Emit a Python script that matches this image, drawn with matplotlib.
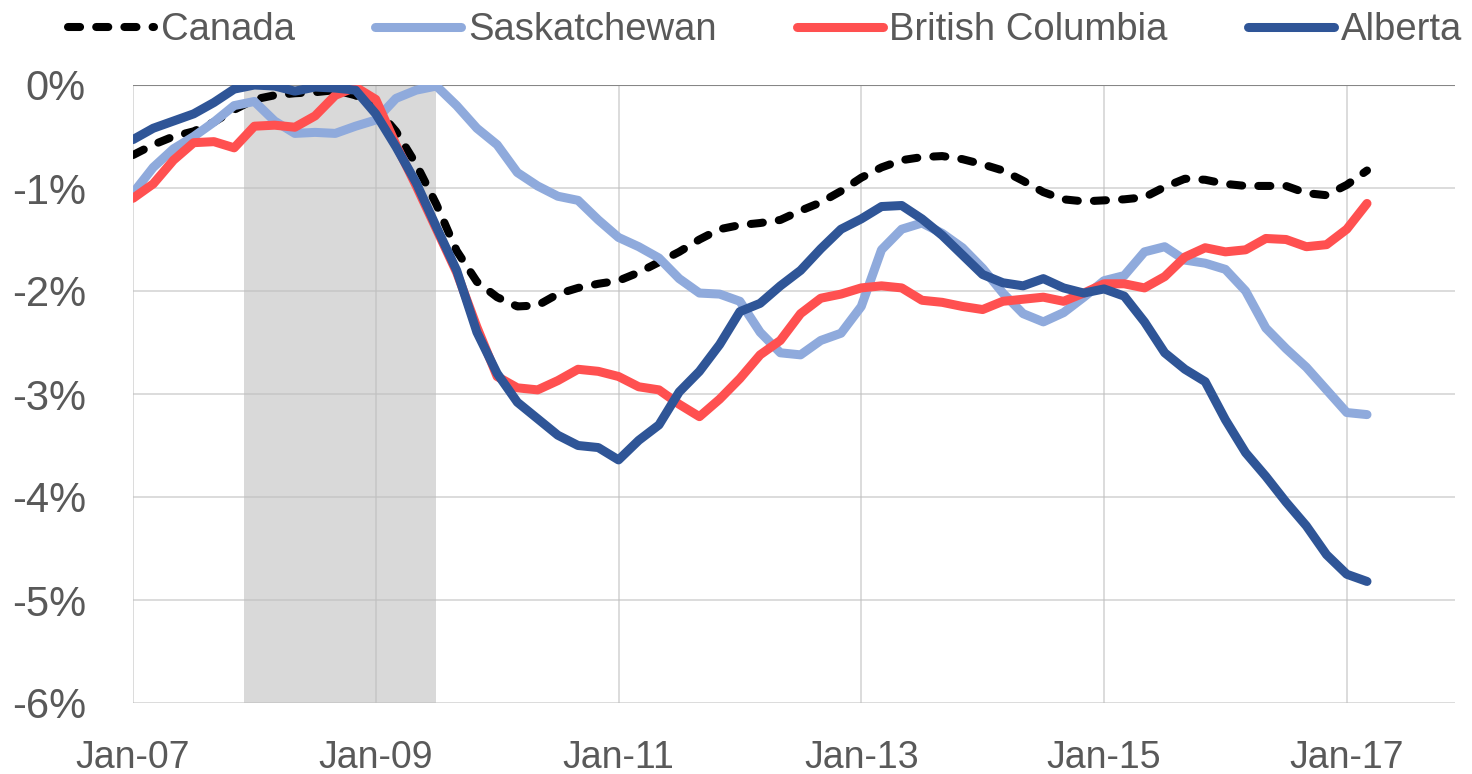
"""Employment drop from pre-recession peak: Canada vs western provinces."""
import matplotlib

matplotlib.use("Agg")
import matplotlib.pyplot as plt
import numpy as np

# months since Jan-07, every second month through Mar-17
months = np.arange(0, 124, 2)

canada = [
    -0.68, -0.58, -0.50, -0.45, -0.36, -0.24, -0.14, -0.10, -0.08, -0.07, -0.05, -0.10,
    -0.22, -0.45, -0.77, -1.16, -1.61, -1.91, -2.06, -2.15, -2.14, -2.03, -1.97, -1.93,
    -1.90, -1.82, -1.72, -1.62, -1.50, -1.40, -1.36, -1.34, -1.31, -1.22, -1.14, -1.03,
    -0.90, -0.80, -0.73, -0.70, -0.69, -0.72, -0.77, -0.83, -0.93, -1.04, -1.11, -1.13,
    -1.12, -1.11, -1.09, -0.99, -0.91, -0.92, -0.96, -0.98, -0.98, -0.98, -1.05, -1.07,
    -0.97, -0.83,
]
saskatchewan = [
    -1.05, -0.80, -0.62, -0.50, -0.36, -0.20, -0.16, -0.35, -0.47, -0.46, -0.47, -0.40,
    -0.34, -0.13, -0.05, -0.01, -0.20, -0.42, -0.58, -0.85, -0.98, -1.08, -1.12, -1.31,
    -1.48, -1.57, -1.68, -1.88, -2.02, -2.03, -2.10, -2.40, -2.60, -2.62, -2.48, -2.41,
    -2.15, -1.60, -1.40, -1.34, -1.44, -1.58, -1.78, -2.02, -2.22, -2.30, -2.21, -2.06,
    -1.90, -1.85, -1.62, -1.57, -1.70, -1.73, -1.79, -2.00, -2.36, -2.56, -2.74, -2.96,
    -3.18, -3.20,
]
british_columbia = [
    -1.10, -0.96, -0.73, -0.56, -0.55, -0.61, -0.40, -0.39, -0.41, -0.30, -0.10, -0.02,
    -0.14, -0.58, -0.98, -1.40, -1.82, -2.35, -2.83, -2.94, -2.96, -2.87, -2.76, -2.78,
    -2.83, -2.93, -2.96, -3.10, -3.22, -3.05, -2.85, -2.62, -2.48, -2.22, -2.07, -2.03,
    -1.97, -1.95, -1.97, -2.09, -2.11, -2.15, -2.18, -2.10, -2.08, -2.06, -2.10, -2.02,
    -1.93, -1.93, -1.97, -1.86, -1.67, -1.58, -1.62, -1.60, -1.49, -1.50, -1.57, -1.55,
    -1.40, -1.15,
]
alberta = [
    -0.53, -0.42, -0.35, -0.28, -0.17, -0.04, 0.00, -0.01, -0.06, -0.02, -0.03, -0.05,
    -0.28, -0.60, -0.95, -1.38, -1.80, -2.40, -2.80, -3.08, -3.24, -3.40, -3.50, -3.52,
    -3.64, -3.45, -3.30, -2.98, -2.78, -2.52, -2.20, -2.12, -1.95, -1.80, -1.59, -1.40,
    -1.30, -1.18, -1.17, -1.30, -1.46, -1.65, -1.84, -1.92, -1.95, -1.88, -1.97, -2.02,
    -1.98, -2.05, -2.30, -2.60, -2.76, -2.88, -3.25, -3.57, -3.80, -4.05, -4.28, -4.56,
    -4.75, -4.82,
]

# recession band: Dec-07 to Jul-09 (months since Jan-07)
recession_start, recession_end = 11, 30

x_ticks = [0, 24, 48, 72, 96, 120]
x_labels = ["Jan-07", "Jan-09", "Jan-11", "Jan-13", "Jan-15", "Jan-17"]
y_ticks = [0, -1, -2, -3, -4, -5, -6]
y_labels = ["0%", "-1%", "-2%", "-3%", "-4%", "-5%", "-6%"]

plt.rcParams["font.family"] = ["Liberation Sans", "DejaVu Sans"]
text_color = "#595959"

fig = plt.figure(figsize=(14.72, 7.74), dpi=100)
ax = fig.add_axes([133 / 1472, 1 - 703 / 774, (1455 - 133) / 1472, (703 - 85) / 774])

ax.axvspan(recession_start, recession_end, color="#D9D9D9", lw=0, zorder=0.3)

solid = dict(lw=6.5, solid_capstyle="round", solid_joinstyle="round")
ax.plot(months, canada, color="black", lw=5.8, linestyle=(0, (1.5, 2.0)),
        dash_capstyle="round", label="Canada", zorder=3)
ax.plot(months, saskatchewan, color="#8FAADC", label="Saskatchewan", zorder=4, **solid)
ax.plot(months, british_columbia, color="#FF5050", label="British Columbia", zorder=5, **solid)
ax.plot(months, alberta, color="#2F5597", label="Alberta", zorder=6, **solid)

ax.axhline(0, color="#868686", lw=1.5, zorder=2.5)

ax.set_xlim(0, 130.7)
ax.set_ylim(-6, 0)
ax.set_xticks(x_ticks, x_labels)
ax.set_yticks(y_ticks, y_labels)
ax.set_axisbelow(True)
# semi-transparent grid so it still shows across the shaded band
ax.grid(True, color="#BFBFBF", alpha=0.6, lw=1.3)
for side in ax.spines.values():
    side.set_visible(False)
ax.tick_params(axis="both", length=0, colors=text_color)
ax.tick_params(axis="y", labelsize=30, pad=34)
ax.tick_params(axis="x", labelsize=27, pad=27)

fig.legend(loc="center", bbox_to_anchor=(765 / 1472, 1 - 30 / 774), ncol=4, frameon=False,
           fontsize=27.5, handlelength=2.25, handletextpad=0.18, columnspacing=2.1,
           labelcolor=text_color)

fig.savefig("out.png", dpi=100)
